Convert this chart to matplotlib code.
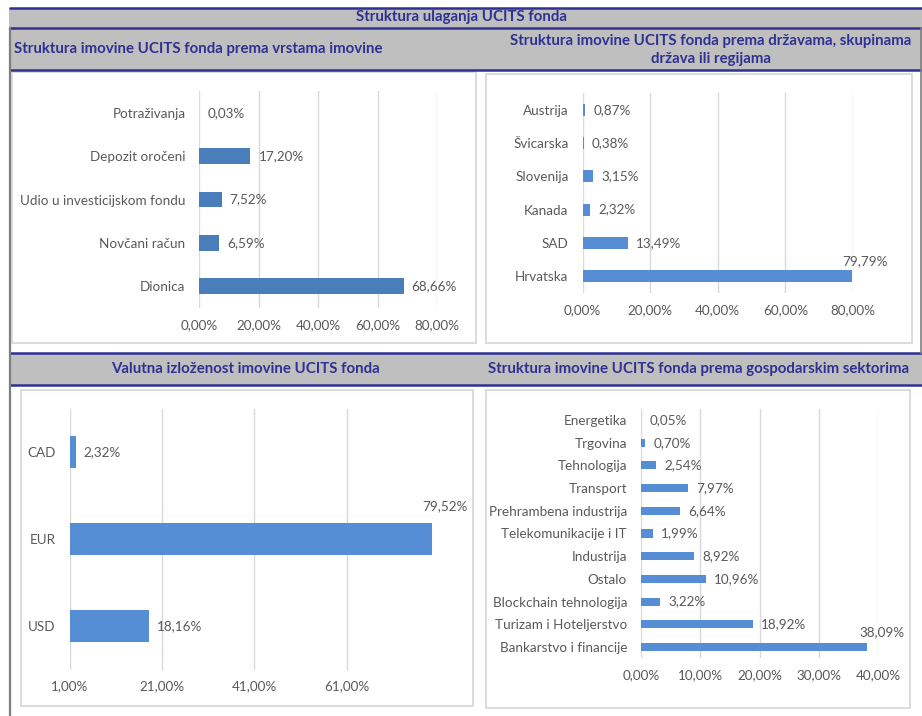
import matplotlib
matplotlib.use("Agg")
import matplotlib.pyplot as plt
from matplotlib.patches import Rectangle

plt.rcParams['font.family'] = ['Lato', 'DejaVu Sans']

W, H = 922, 716

# ---------------- data ----------------
main_title = "Struktura ulaganja UCITS fonda"

t1 = "Struktura imovine UCITS fonda prema vrstama imovine"
cat1 = ["Potraživanja", "Depozit oročeni", "Udio u investicijskom fondu", "Novčani račun", "Dionica"]
val1 = [0.03, 17.20, 7.52, 6.59, 68.66]
ticks1 = [0, 20, 40, 60, 80]

t2 = "Struktura imovine UCITS fonda prema državama, skupinama\ndržava ili regijama"
cat2 = ["Austrija", "Švicarska", "Slovenija", "Kanada", "SAD", "Hrvatska"]
val2 = [0.87, 0.38, 3.15, 2.32, 13.49, 79.79]
ticks2 = [0, 20, 40, 60, 80]

t3 = "Valutna izloženost imovine UCITS fonda"
cat3 = ["CAD", "EUR", "USD"]
val3 = [2.32, 79.52, 18.16]
ticks3 = [1, 21, 41, 61]

t4 = "Struktura imovine UCITS fonda prema gospodarskim sektorima"
cat4 = ["Energetika", "Trgovina", "Tehnologija", "Transport", "Prehrambena industrija",
        "Telekomunikacije i IT", "Industrija", "Ostalo", "Blockchain tehnologija",
        "Turizam i Hoteljerstvo", "Bankarstvo i financije"]
val4 = [0.05, 0.70, 2.54, 7.97, 6.64, 1.99, 8.92, 10.96, 3.22, 18.92, 38.09]
ticks4 = [0, 10, 20, 30, 40]

# ---------------- styles ----------------
BLUE_LINE = "#2E3192"
HDR_TXT = "#2E3192"
BAND = "#BFBFBF"
FRAME = "#D9D9D9"
GRID = "#D9D9D9"
TXT = "#595959"
BAR1 = "#4A7EBB"
BAR2 = "#558ED5"
HFS = 10.8
FS = 9.7

fig = plt.figure(figsize=(W / 100, H / 100), dpi=100)

# background overlay in pixel coordinates
bg = fig.add_axes([0, 0, 1, 1], zorder=0)
bg.set_xlim(0, W)
bg.set_ylim(H, 0)
bg.axis("off")

# gray bands
bg.add_patch(Rectangle((9, 7.5), W - 9, 21, facecolor=BAND, edgecolor="none"))
bg.add_patch(Rectangle((10, 28), W - 10, 42, facecolor=BAND, edgecolor="none"))
bg.add_patch(Rectangle((10, 353), W - 10, 32, facecolor=BAND, edgecolor="none"))

# blue lines
for y, x0 in [(7.5, 9), (28, 9), (70, 10), (353, 10), (385, 10)]:
    bg.plot([x0, W], [y, y], color=BLUE_LINE, lw=1.8, solid_capstyle="butt")

# dark side lines
bg.plot([10, 10], [28, H], color="#7F7F7F", lw=1.6)
bg.plot([920.5, 920.5], [28, 353], color="#7F7F7F", lw=1.2)

# panel frames
for (x0, y0, x1, y1) in [(12, 72, 476, 343), (486, 74, 912, 343),
                         (21, 390, 473, 706), (486, 390, 910, 708)]:
    bg.add_patch(Rectangle((x0, y0), x1 - x0, y1 - y0, facecolor="white",
                           edgecolor=FRAME, lw=1.3))

# header texts
bg.text(461, 17.5, main_title, ha="center", va="center", fontsize=HFS,
        fontweight="bold", color=HDR_TXT)
bg.text(14, 49, t1, ha="left", va="center", fontsize=HFS, fontweight="bold", color=HDR_TXT)
bg.text(711, 50, t2, ha="center", va="center", fontsize=HFS, fontweight="bold",
        color=HDR_TXT, linespacing=1.35)
bg.text(245, 369, t3, ha="center", va="center", fontsize=HFS, fontweight="bold", color=HDR_TXT)
bg.text(699, 369, t4, ha="center", va="center", fontsize=HFS, fontweight="bold", color=HDR_TXT)


def fmt(v):
    return f"{v:.2f}".replace(".", ",") + "%"


def panel(box, cats, vals, ticks, xlim, color, big_offset=None, fs=FS):
    x0, y0, x1, y1 = box
    ax = fig.add_axes([x0 / W, 1 - y1 / H, (x1 - x0) / W, (y1 - y0) / H], zorder=2)
    ax.set_facecolor("none")
    ypos = list(range(len(cats)))
    xmin = xlim[0]
    ax.barh(ypos, [v - xmin for v in vals], left=xmin, height=0.36, color=color, zorder=3)
    ax.set_xlim(*xlim)
    ax.set_ylim(len(cats) - 0.5, -0.5)
    ax.set_yticks(ypos)
    ax.set_yticklabels(cats, fontsize=fs, color=TXT)
    ax.set_xticks(ticks)
    ax.set_xticklabels([fmt(t) for t in ticks], fontsize=fs, color=TXT)
    ax.tick_params(axis="both", length=0)
    ax.tick_params(axis="x", pad=8)
    ax.tick_params(axis="y", pad=10)
    for s in ax.spines.values():
        s.set_visible(False)
    ax.grid(axis="x", color=GRID, lw=1.0, zorder=0)
    ax.set_axisbelow(True)
    imax = vals.index(max(vals))
    for i, v in enumerate(vals):
        if big_offset is not None and i == imax:
            ax.annotate(fmt(v), xy=(v, i), xytext=big_offset, textcoords="offset pixels",
                        ha="center", va="center", fontsize=fs, color=TXT,
                        annotation_clip=False)
        else:
            ax.annotate(fmt(v), xy=(v, i), xytext=(8, 0), textcoords="offset pixels",
                        ha="left", va="center", fontsize=fs, color=TXT,
                        annotation_clip=False)
    return ax


panel((199.3, 91, 437.3, 308), cat1, val1, ticks1, (0, 80), BAR1)
panel((582.5, 93.4, 853, 292.6), cat2, val2, ticks2, (0, 80), BAR2, big_offset=(13, 15))
panel((69.7, 408.5, 434.3, 669.5), cat3, val3, ticks3, (1, 80), BAR2, big_offset=(13, 33))
panel((641, 408.6, 878.2, 658.4), cat4, val4, ticks4, (0, 40), BAR2, big_offset=(15, 15))

fig.savefig("out.png", dpi=100)
